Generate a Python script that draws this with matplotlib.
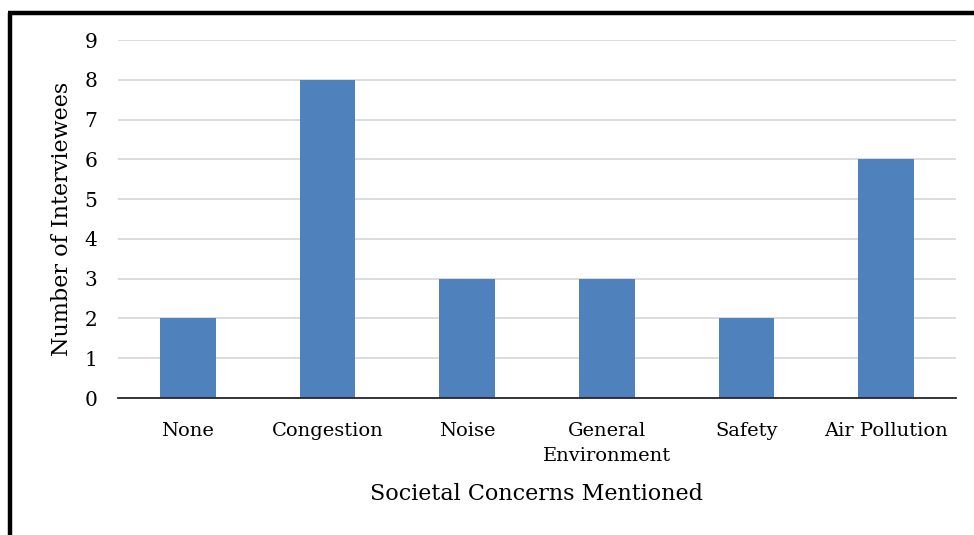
import matplotlib
matplotlib.use("Agg")
import matplotlib.pyplot as plt
from matplotlib.lines import Line2D

categories = ["None", "Congestion", "Noise", "General\nEnvironment", "Safety", "Air Pollution"]
counts = [2, 8, 3, 3, 2, 6]
yticks = list(range(0, 10))

plt.rcParams["font.family"] = ["DejaVu Serif"]

fig = plt.figure(figsize=(9.74, 5.35), dpi=100)
ax = fig.add_axes([118 / 974, 1 - 398 / 535, (956 - 118) / 974, (398 - 40) / 535])

x = range(len(categories))
ax.bar(x, counts, width=0.4, color="#4f81bd", zorder=3)

ax.set_xlim(-0.5, len(categories) - 0.5)
ax.set_ylim(0, 9)
ax.set_yticks(yticks)
ax.set_xticks(list(x))
ax.set_xticklabels(categories, fontsize=14, linespacing=1.55)
ax.tick_params(axis="y", labelsize=14.5, length=0, pad=15)
ax.tick_params(axis="x", length=0, pad=17)
ax.grid(axis="y", color="#d9d9d9", lw=1.3, zorder=0)

for side in ("top", "right", "left"):
    ax.spines[side].set_visible(False)
ax.spines["bottom"].set_color("#262626")
ax.spines["bottom"].set_linewidth(1.3)
ax.spines["bottom"].set_zorder(4)

ax.set_ylabel("Number of Interviewees", fontsize=16, labelpad=8)
ax.set_xlabel("Societal Concerns Mentioned", fontsize=16, labelpad=13)

# outer frame, only top and left edges show
fig.add_artist(Line2D([8 / 974, 1], [1 - 12.5 / 535] * 2, transform=fig.transFigure,
                      color="black", lw=3.2, solid_capstyle="butt"))
fig.add_artist(Line2D([10 / 974] * 2, [0, 1 - 12.5 / 535], transform=fig.transFigure,
                      color="black", lw=3.2, solid_capstyle="butt"))

plt.savefig("out.png", dpi=100)
